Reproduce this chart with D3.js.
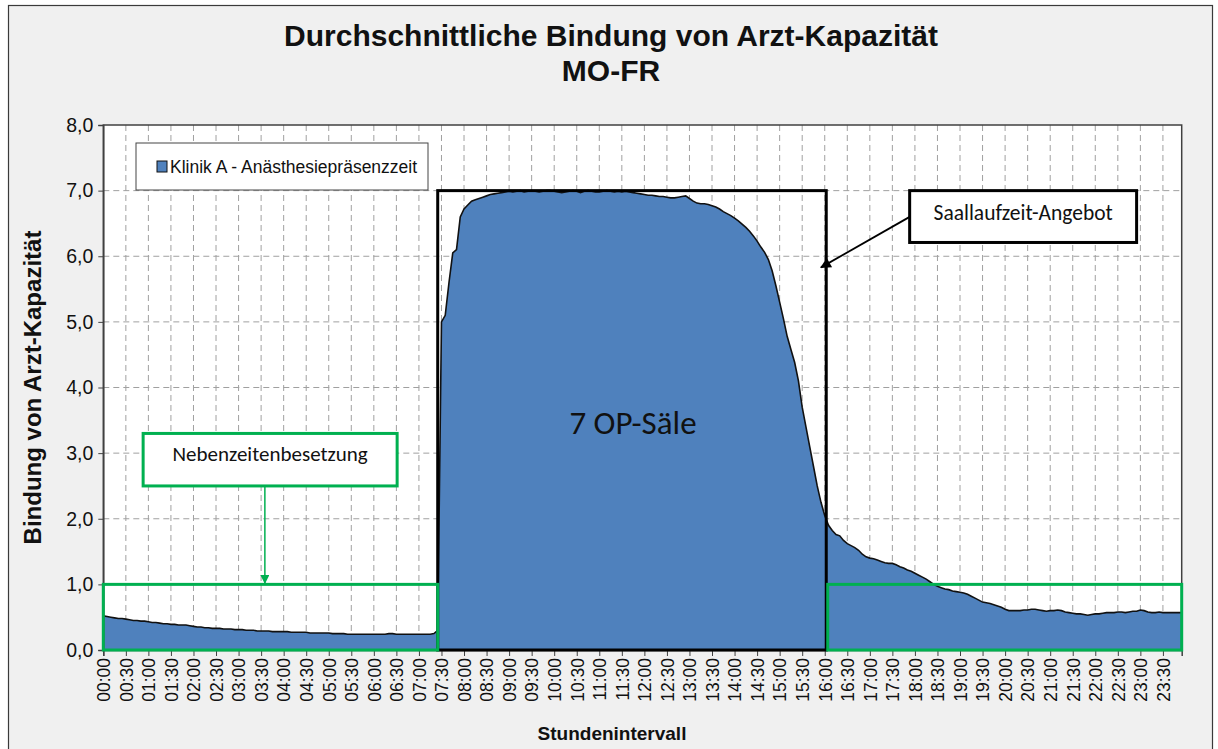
<!DOCTYPE html>
<html>
<head>
<meta charset="utf-8">
<script src="https://cdnjs.cloudflare.com/ajax/libs/d3/7.8.5/d3.min.js"></script>
<style>
  body { margin: 0; background: #ffffff; }
  text { font-family: Arial, "Liberation Sans", sans-serif; }
</style>
</head>
<body>
<div id="chart"></div>
<script>
// 5-minute averages, 00:00 - 23:55
// night 00:00 - 07:25
var nightValues = [
  0.52,0.51,0.50,0.49,0.48,0.48,0.47,0.46,0.45,0.45,0.44,0.44,
  0.43,0.42,0.42,0.41,0.40,0.40,0.39,0.39,0.38,0.38,0.38,0.37,
  0.36,0.35,0.35,0.34,0.34,0.33,0.33,0.33,0.32,0.32,0.32,0.31,
  0.31,0.31,0.30,0.30,0.30,0.29,0.29,0.29,0.29,0.28,0.28,0.28,
  0.28,0.28,0.27,0.27,0.27,0.27,0.27,0.26,0.26,0.26,0.26,0.26,
  0.26,0.25,0.25,0.25,0.25,0.24,0.24,0.24,0.24,0.24,0.24,0.24,
  0.24,0.24,0.24,0.24,0.25,0.25,0.24,0.24,0.24,0.24,0.24,0.24,
  0.24,0.24,0.24,0.24,0.25,0.30
];
// day 07:30 - 15:55
var dayValues = [
  5.00,5.10,5.60,6.05,6.10,6.60,
  6.72,6.78,6.84,6.86,6.88,6.90,6.92,6.94,6.95,6.96,6.97,6.98,
  6.99,6.98,6.99,7.00,6.98,6.99,7.00,6.99,6.98,6.99,7.00,7.00,
  6.99,6.98,6.97,6.98,6.99,7.00,6.99,6.97,6.99,7.00,6.99,6.98,
  6.98,6.99,7.00,6.99,6.98,6.99,6.98,6.99,6.98,6.97,6.96,6.95,
  6.94,6.93,6.93,6.92,6.91,6.91,6.90,6.89,6.89,6.90,6.91,6.92,
  6.88,6.84,6.81,6.80,6.80,6.79,6.77,6.75,6.72,6.68,6.65,6.62,
  6.58,6.54,6.49,6.44,6.38,6.31,6.23,6.14,6.06,5.95,5.78,5.55,
  5.30,5.05,4.78,4.58,4.38,4.10,3.70,3.40,3.10,2.80,2.50,2.25
];
// evening 16:00 - 23:55
var eveningValues = [
  2.05,1.90,1.82,1.76,1.74,1.67,1.62,1.59,1.56,1.52,1.46,1.42,
  1.40,1.39,1.37,1.35,1.33,1.32,1.32,1.30,1.27,1.25,1.22,1.20,
  1.17,1.14,1.11,1.08,1.04,1.00,0.97,0.95,0.93,0.92,0.90,0.89,
  0.88,0.87,0.85,0.82,0.79,0.76,0.73,0.72,0.71,0.69,0.67,0.65,
  0.62,0.60,0.60,0.60,0.60,0.61,0.61,0.62,0.62,0.61,0.60,0.59,
  0.60,0.60,0.61,0.60,0.58,0.57,0.56,0.55,0.55,0.54,0.53,0.54,
  0.55,0.55,0.56,0.57,0.57,0.57,0.58,0.58,0.57,0.58,0.59,0.59,
  0.61,0.60,0.58,0.57,0.57,0.58,0.57,0.57,0.57,0.57,0.57,0.57
];

var values = nightValues.concat(dayValues, eveningValues);
var minutes = d3.range(0, 1440, 5);
var data = values.map(function (v, i) { return {t: minutes[i], v: v}; });

var tickMinutes = d3.range(0, 1440, 30);
var yTicks = [0, 1, 2, 3, 4, 5, 6, 7, 8];

var seriesName = "Klinik A - Anästhesiepräsenzzeit";
var titleLines = ["Durchschnittliche Bindung von Arzt-Kapazität", "MO-FR"];

var W = 1218, H = 749;
var blue = "#4f81bd", green = "#00b050";

var svg = d3.select("#chart").append("svg")
    .attr("width", W)
    .attr("height", H);

// chart frame
svg.append("rect")
    .attr("x", 8.5).attr("y", 5.5)
    .attr("width", 1204).attr("height", 760)
    .style("fill", "#f0f0f0")
    .style("stroke", "#3a3a3a")
    .style("stroke-width", 1.2);

x = d3.scaleLinear().domain([0, 1435]).range([103.3, 1181.7]);
y = d3.scaleLinear().domain([0, 8]).range([650, 125]);

// plot area
svg.append("rect")
    .attr("x", x(0)).attr("y", y(8))
    .attr("width", x(1435) - x(0)).attr("height", y(0) - y(8))
    .style("fill", "white");

// grid
var grid = svg.append("g").attr("class", "grid");
grid.selectAll(".hgrid")
    .data(yTicks.slice(1, -1))
    .enter().append("line")
    .attr("x1", x(0)).attr("x2", x(1435))
    .attr("y1", function (d) { return y(d) }).attr("y2", function (d) { return y(d) })
    .style("stroke", "#a0a0a0").style("stroke-dasharray", "6,4").style("stroke-width", 1);
grid.selectAll(".vgrid")
    .data(tickMinutes.slice(1))
    .enter().append("line")
    .attr("x1", function (d) { return x(d) }).attr("x2", function (d) { return x(d) })
    .attr("y1", y(8)).attr("y2", y(0))
    .style("stroke", "#a0a0a0").style("stroke-dasharray", "6,4").style("stroke-width", 1);

// area
var area = d3.area()
    .x(function (d) { return x(d.t) })
    .y0(y(0))
    .y1(function (d) { return y(d.v) });
var line = d3.line()
    .x(function (d) { return x(d.t) })
    .y(function (d) { return y(d.v) });

svg.append("path")
    .datum(data)
    .attr("d", area)
    .style("fill", blue);
svg.append("path")
    .datum(data)
    .attr("d", line)
    .style("fill", "none")
    .style("stroke", "#111")
    .style("stroke-width", 1.6);

// plot border
svg.append("rect")
    .attr("x", x(0)).attr("y", y(8))
    .attr("width", x(1435) - x(0)).attr("height", y(0) - y(8))
    .style("fill", "none")
    .style("stroke", "#404040")
    .style("stroke-width", 1.5);

// y axis
var yAxis = svg.append("g")
    .attr("transform", "translate(" + x(0) + ",0)")
    .call(d3.axisLeft(y).tickValues(yTicks).tickSize(5).tickPadding(5)
        .tickFormat(function (d) { return d3.format(".1f")(d).replace(".", ",") }));
yAxis.select(".domain").style("stroke", "#404040").style("stroke-width", 1.5);
yAxis.selectAll(".tick line").style("stroke", "#404040");
yAxis.selectAll("text").style("font-size", "19.5px").style("fill", "#111")
    .style("font-family", "Arial, 'Liberation Sans', sans-serif");

// x axis
var xAxis = svg.append("g")
    .attr("transform", "translate(0," + y(0) + ")")
    .call(d3.axisBottom(x).tickValues(tickMinutes).tickSize(6)
        .tickFormat(function (d) { return d3.format("02d")(Math.floor(d / 60)) + ":" + d3.format("02d")(d % 60) }));
xAxis.select(".domain").style("stroke", "#404040").style("stroke-width", 1.5);
xAxis.selectAll(".tick line").style("stroke", "#404040");
xAxis.selectAll("text")
    .attr("transform", "rotate(-90)")
    .attr("x", -8).attr("y", 0).attr("dy", "0.36em")
    .style("text-anchor", "end")
    .style("font-size", "17.5px").style("fill", "#111")
    .style("font-family", "Arial, 'Liberation Sans', sans-serif");

// titles
svg.selectAll(".title")
    .data(titleLines)
    .enter().append("text")
    .attr("x", 611)
    .attr("y", function (d, i) { return 46 + i * 35 })
    .attr("text-anchor", "middle")
    .style("font-size", "30px").style("font-weight", "bold").style("fill", "#111")
    .text(function (d) { return d });

svg.append("text")
    .attr("transform", "translate(41," + ((y(0) + y(8)) / 2) + ") rotate(-90)")
    .attr("text-anchor", "middle")
    .style("font-size", "24px").style("font-weight", "bold").style("fill", "#111")
    .text("Bindung von Arzt-Kapazität");

svg.append("text")
    .attr("x", 612).attr("y", 740)
    .attr("text-anchor", "middle")
    .style("font-size", "19px").style("font-weight", "bold").style("fill", "#111")
    .text("Stundenintervall");

// legend
var legend = svg.append("g").attr("transform", "translate(136,143)");
legend.append("rect").attr("width", 292).attr("height", 47)
    .style("fill", "white").style("stroke", "#444").style("stroke-width", 1);
legend.append("rect").attr("x", 21).attr("y", 18).attr("width", 10).attr("height", 11)
    .style("fill", blue).style("stroke", "#111").style("stroke-width", 1);
legend.append("text").attr("x", 34).attr("y", 30)
    .style("font-size", "17.5px").style("fill", "#111")
    .text(seriesName);

// annotations
var annoFont = "Calibri, Carlito, 'Open Sans', 'Noto Sans', sans-serif";

// operating room box
svg.append("rect")
    .attr("x", x(445)).attr("y", y(7))
    .attr("width", x(962) - x(445)).attr("height", y(0) - y(7))
    .style("fill", "none").style("stroke", "#000").style("stroke-width", 3);
svg.append("text")
    .attr("x", (x(445) + x(962)) / 2 + 1).attr("y", y(3.2) - 6)
    .attr("text-anchor", "middle")
    .style("font-family", annoFont).style("font-size", "33px").style("fill", "#111")
    .text("7 OP-Säle");

// green night boxes
svg.append("rect")
    .attr("x", x(0)).attr("y", y(1))
    .attr("width", x(445) - x(0)).attr("height", y(0) - y(1))
    .style("fill", "none").style("stroke", green).style("stroke-width", 3);
svg.append("rect")
    .attr("x", x(962) + 1.5).attr("y", y(1))
    .attr("width", x(1435) - x(962) - 1.5).attr("height", y(0) - y(1))
    .style("fill", "none").style("stroke", green).style("stroke-width", 3);

// arrow heads
var defs = svg.append("defs");
[["arrowBlack", "#000"], ["arrowGreen", green]].forEach(function (m) {
    defs.append("marker")
        .attr("id", m[0])
        .attr("viewBox", "0 0 10 10")
        .attr("refX", 9).attr("refY", 5)
        .attr("markerWidth", 7).attr("markerHeight", 6)
        .attr("markerUnits", "strokeWidth")
        .attr("orient", "auto")
        .append("path").attr("d", "M0,0L10,5L0,10Z").style("fill", m[1]);
});

// Saallaufzeit callout
svg.append("line")
    .attr("x1", x(1073)).attr("y1", y(6.6))
    .attr("x2", x(955)).attr("y2", y(5.83))
    .style("stroke", "#000").style("stroke-width", 1.8)
    .attr("marker-end", "url(#arrowBlack)");
svg.append("rect")
    .attr("x", x(1073)).attr("y", y(7))
    .attr("width", x(1375) - x(1073)).attr("height", y(6.21) - y(7))
    .style("fill", "white").style("stroke", "#000").style("stroke-width", 3);
svg.append("text")
    .attr("x", (x(1073) + x(1375)) / 2).attr("y", (y(7) + y(6.21)) / 2 + 3)
    .attr("text-anchor", "middle")
    .style("font-family", annoFont).style("font-size", "21.5px").style("fill", "#111")
    .text("Saallaufzeit-Angebot");

// Nebenzeiten callout
svg.append("line")
    .attr("x1", x(215)).attr("y1", y(2.5))
    .attr("x2", x(215)).attr("y2", y(1.02))
    .style("stroke", green).style("stroke-width", 1.5)
    .attr("marker-end", "url(#arrowGreen)");
svg.append("rect")
    .attr("x", x(53)).attr("y", y(3.3))
    .attr("width", x(391) - x(53)).attr("height", y(2.5) - y(3.3))
    .style("fill", "white").style("stroke", green).style("stroke-width", 3);
svg.append("text")
    .attr("x", (x(53) + x(391)) / 2).attr("y", (y(3.3) + y(2.5)) / 2 + 1)
    .attr("text-anchor", "middle")
    .style("font-family", annoFont).style("font-size", "21px").style("fill", "#111")
    .text("Nebenzeitenbesetzung");
</script>
</body>
</html>
